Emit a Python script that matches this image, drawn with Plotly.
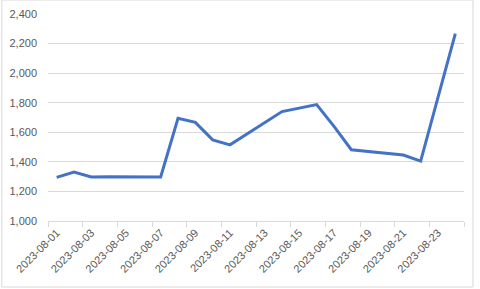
import plotly.graph_objects as go

dates = ["2023-08-01", "2023-08-02", "2023-08-03", "2023-08-04", "2023-08-07",
         "2023-08-08", "2023-08-09", "2023-08-10", "2023-08-11", "2023-08-14",
         "2023-08-16", "2023-08-17", "2023-08-18", "2023-08-21", "2023-08-22",
         "2023-08-23", "2023-08-24"]
values = [1295, 1331, 1298, 1300, 1298,
          1695, 1667, 1549, 1515, 1740,
          1787, 1640, 1482, 1446, 1405,
          1830, 2267]

label_dates = ["2023-08-01", "2023-08-03", "2023-08-05", "2023-08-07", "2023-08-09",
               "2023-08-11", "2023-08-13", "2023-08-15", "2023-08-17", "2023-08-19",
               "2023-08-21", "2023-08-23"]
boundary_ticks = ["2023-07-31 12:00", "2023-08-02 12:00", "2023-08-04 12:00",
                  "2023-08-06 12:00", "2023-08-08 12:00", "2023-08-10 12:00",
                  "2023-08-12 12:00", "2023-08-14 12:00", "2023-08-16 12:00",
                  "2023-08-18 12:00", "2023-08-20 12:00", "2023-08-22 12:00",
                  "2023-08-24 12:00"]
y_ticks = [1000, 1200, 1400, 1600, 1800, 2000, 2200, 2400]

font_color = "#595959"
grid_color = "#d9d9d9"

fig = go.Figure()
fig.add_trace(go.Scatter(
    x=dates, y=values, mode="lines",
    line=dict(color="#4472C4", width=3),
    hoverinfo="skip",
))

fig.update_layout(
    width=480, height=289,
    margin=dict(l=48, r=16, t=14, b=68, pad=0),
    paper_bgcolor="white", plot_bgcolor="white",
    showlegend=False,
    font=dict(family="Liberation Sans, Arial, sans-serif", size=11, color=font_color),
    xaxis=dict(
        type="date",
        automargin=False,
        range=["2023-07-31 12:00", "2023-08-24 12:00"],
        tickmode="array",
        tickvals=label_dates,
        ticktext=label_dates,
        tickangle=-45,
        ticks="",
        showgrid=False,
        showline=True, linecolor=grid_color, linewidth=1,
        zeroline=False,
        minor=dict(tickmode="array", tickvals=boundary_ticks, ticks="outside",
                   ticklen=5, tickcolor=grid_color, tickwidth=1, showgrid=False),
    ),
    yaxis=dict(
        automargin=False,
        range=[1000, 2400],
        tickmode="array",
        tickvals=y_ticks,
        ticktext=[f"{v:,}" for v in y_ticks],
        ticks="",
        showgrid=True, gridcolor=grid_color, gridwidth=1,
        zeroline=False, showline=False,
        ticklabelstandoff=10,
    ),
    shapes=[dict(type="rect", xref="paper", yref="paper",
                 x0=-0.111, x1=1.0216, y0=-0.3188, y1=1.0676,
                 line=dict(color="#d9d9d9", width=1), fillcolor="rgba(0,0,0,0)",
                 layer="below")],
)

fig.write_html("out.html")
